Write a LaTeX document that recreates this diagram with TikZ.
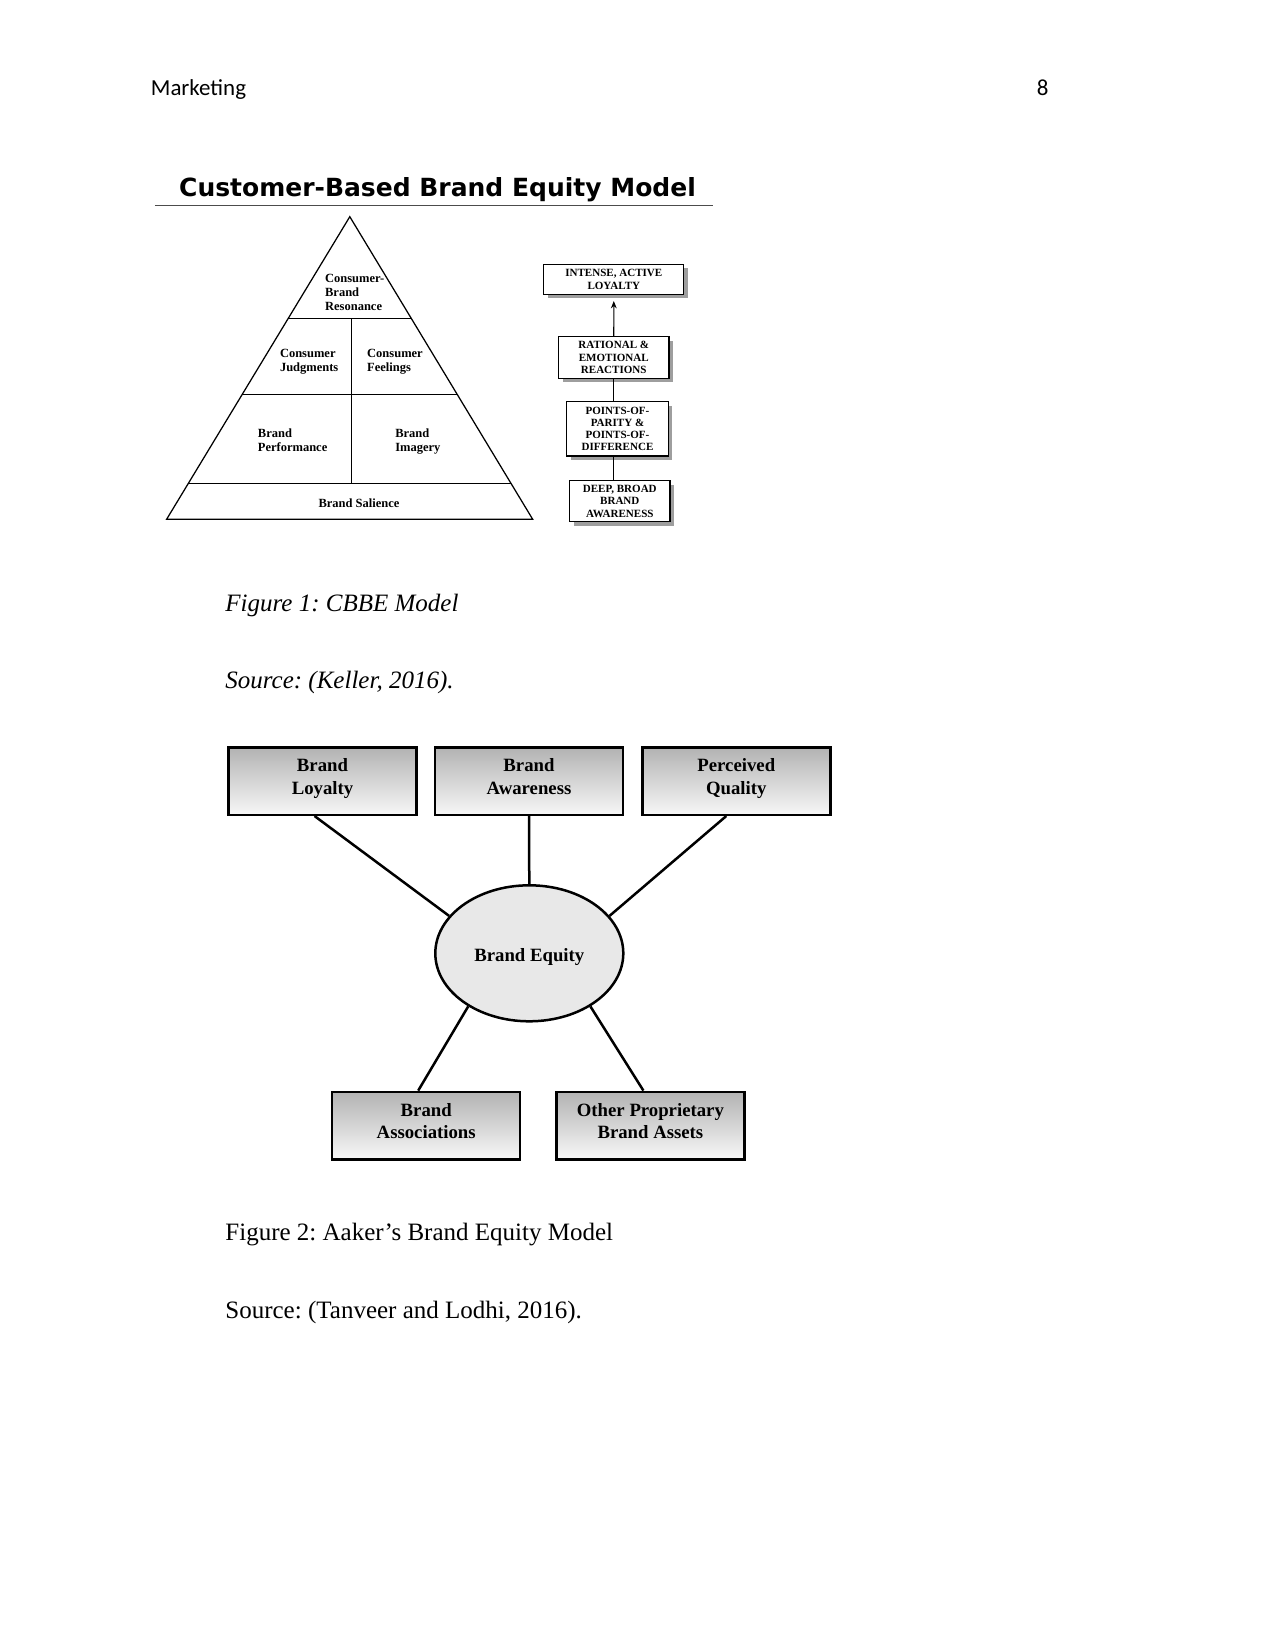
\documentclass[tikz,border=0pt]{standalone}
\usepackage{fontspec}
\setmainfont{Liberation Serif}
\newfontfamily\hdrfont{Carlito}
\newfontfamily\titlefont{DejaVu Sans}
\usetikzlibrary{shapes.geometric,shadows,arrows.meta,calc}
\definecolor{boxtop}{gray}{0.70}
\definecolor{boxbot}{gray}{0.97}
\definecolor{eqfill}{gray}{0.91}
\definecolor{shadowgray}{gray}{0.62}
\frenchspacing
\tikzset{
  hdr/.style={inner sep=0, font=\hdrfont\fontsize{11}{13}\selectfont},
  captxt/.style={inner sep=0, anchor=base west, font=\fontsize{12}{14}\selectfont},
  pyr/.style={line width=0.6pt},
  pyrtext/.style={font=\fontsize{6}{6.6}\selectfont\bfseries, align=left, inner sep=0, anchor=west},
  chainbox/.style={draw, line width=0.5pt, fill=white, inner sep=0, align=center,
    font=\fontsize{5.3}{5.9}\selectfont\bfseries,
    drop shadow={shadow xshift=2pt, shadow yshift=-2pt, fill=shadowgray, opacity=1}},
  chainline/.style={line width=0.5pt},
  aabox/.style={draw, line width=1.2pt, top color=boxtop, bottom color=boxbot, inner sep=0,
    align=center, font=\fontsize{9}{10.9}\selectfont\bfseries,
    minimum width=188*0.48pt, minimum height=67.5*0.48pt,
    execute at begin node={\rule{0pt}{7.7pt}},
    execute at end node={\rule[-4.3pt]{0pt}{4.3pt}}},
  eqnode/.style={draw, ellipse, line width=1.2pt, fill=eqfill, inner sep=0,
    font=\fontsize{9}{10.9}\selectfont\bfseries, text height=8.2pt, text depth=0pt,
    minimum width=188*0.48pt, minimum height=136*0.48pt},
  link/.style={line width=1.2pt}
}
\begin{document}
\begin{tikzpicture}[x=0.48pt,y=-0.48pt]
\useasboundingbox (0,0) rectangle (1275,1651);
\fill[white] (0,0) rectangle (1275,1651);

% header
\node[hdr, anchor=base west] (hdrl) at (150.5,96) {Marketing};
\node[hdr, anchor=base east] (hdrr) at (1049,96) {8};

% title
\node[anchor=base west, inner sep=0, font=\titlefont\fontsize{12}{14}\selectfont\bfseries] (title) at (178.8,196.7) {Customer-Based Brand Equity Model};
\draw[line width=0.6pt, gray!60!black] (154.8,205.7) -- (713,205.7);

% pyramid
\coordinate (apex) at (349.8,216.7);
\coordinate (bl) at (166.6,519.3);
\coordinate (br) at (532.7,519.3);
\draw[pyr] (apex) -- (bl) -- (br) -- cycle;
\draw[pyr] ($(apex)!0.3371!(bl)$) -- ($(apex)!0.3371!(br)$);
\draw[pyr] ($(apex)!0.5882!(bl)$) -- ($(apex)!0.5882!(br)$);
\draw[pyr] ($(apex)!0.881!(bl)$) -- ($(apex)!0.881!(br)$);
\draw[pyr] (351.7,318.7) -- (351.7,483.3);

\node[pyrtext] (res) at (324.7,292.2) {Consumer-\\Brand\\Resonance};
\node[pyrtext] (jud) at (279.6,361.7) {Consumer\\Judgments};
\node[pyrtext] (fee) at (366.8,362) {Consumer\\Feelings};
\node[pyrtext] (per) at (257.5,440.3) {Brand\\Performance};
\node[pyrtext] (ima) at (394.9,441.3) {Brand\\Imagery};
\node[pyrtext, anchor=center] (sal) at (359,503.3) {Brand Salience};

% chain
\node[chainbox, minimum width=140*0.48pt, minimum height=30*0.48pt] (int) at (613.8,279.3) {INTENSE, ACTIVE\\LOYALTY};
\node[chainbox, minimum width=110.5*0.48pt, minimum height=41.6*0.48pt] (rat) at (613.75,357.5) {RATIONAL \&\\EMOTIONAL\\REACTIONS};
\node[chainbox, minimum width=101.6*0.48pt, minimum height=54.3*0.48pt] (pts) at (617.5,428.85) {POINTS-OF-\\PARITY \&\\POINTS-OF-\\DIFFERENCE};
\node[chainbox, minimum width=100.4*0.48pt, minimum height=41*0.48pt] (deep) at (619.8,501.2) {DEEP, BROAD\\BRAND\\AWARENESS};
\draw[chainline, -{Stealth[length=3.5pt,width=2.8pt]}, shorten >=3pt] (rat.north) -- (int.south);
\draw[chainline] (rat.south) -- (rat.south |- pts.north);
\draw[chainline] (pts.south -| rat.south) -- (deep.north -| rat.south);

% captions figure 1
\node[captxt] (f1) at (225,611) {\itshape Figure 1: CBBE Model};
\node[captxt] (s1) at (225,688.3) {\itshape Source: (Keller, 2016).};

% Aaker model
\node[aabox] (loy) at (322.5,781) {Brand\\Loyalty};
\node[aabox] (awa) at (529,781) {Brand\\Awareness};
\node[aabox] (qua) at (736.3,781) {Perceived\\Quality};
\node[eqnode] (eq) at (529.3,953.3) {Brand Equity};
\node[aabox] (ass) at (426.2,1125.6) {Brand\\Associations};
\node[aabox] (oth) at (650.4,1125.6) {Other Proprietary\\Brand Assets};
\draw[link] ($(loy.south)+(-8,0)$) -- (eq.155.3);
\draw[link] (awa.south) -- (eq.north);
\draw[link] ($(qua.south)+(-10,0)$) -- (eq.25.1);
\draw[link] ($(ass.north)+(-8,0)$) -- (eq.221.8);
\draw[link] ($(oth.north)+(-7,0)$) -- (eq.319.4);

% captions figure 2
\node[captxt] (f2) at (225,1240.7) {Figure 2: Aaker’s Brand Equity Model};
\node[captxt] (s2) at (225,1318.3) {Source: (Tanveer and Lodhi, 2016).};
\end{tikzpicture}
\end{document}
